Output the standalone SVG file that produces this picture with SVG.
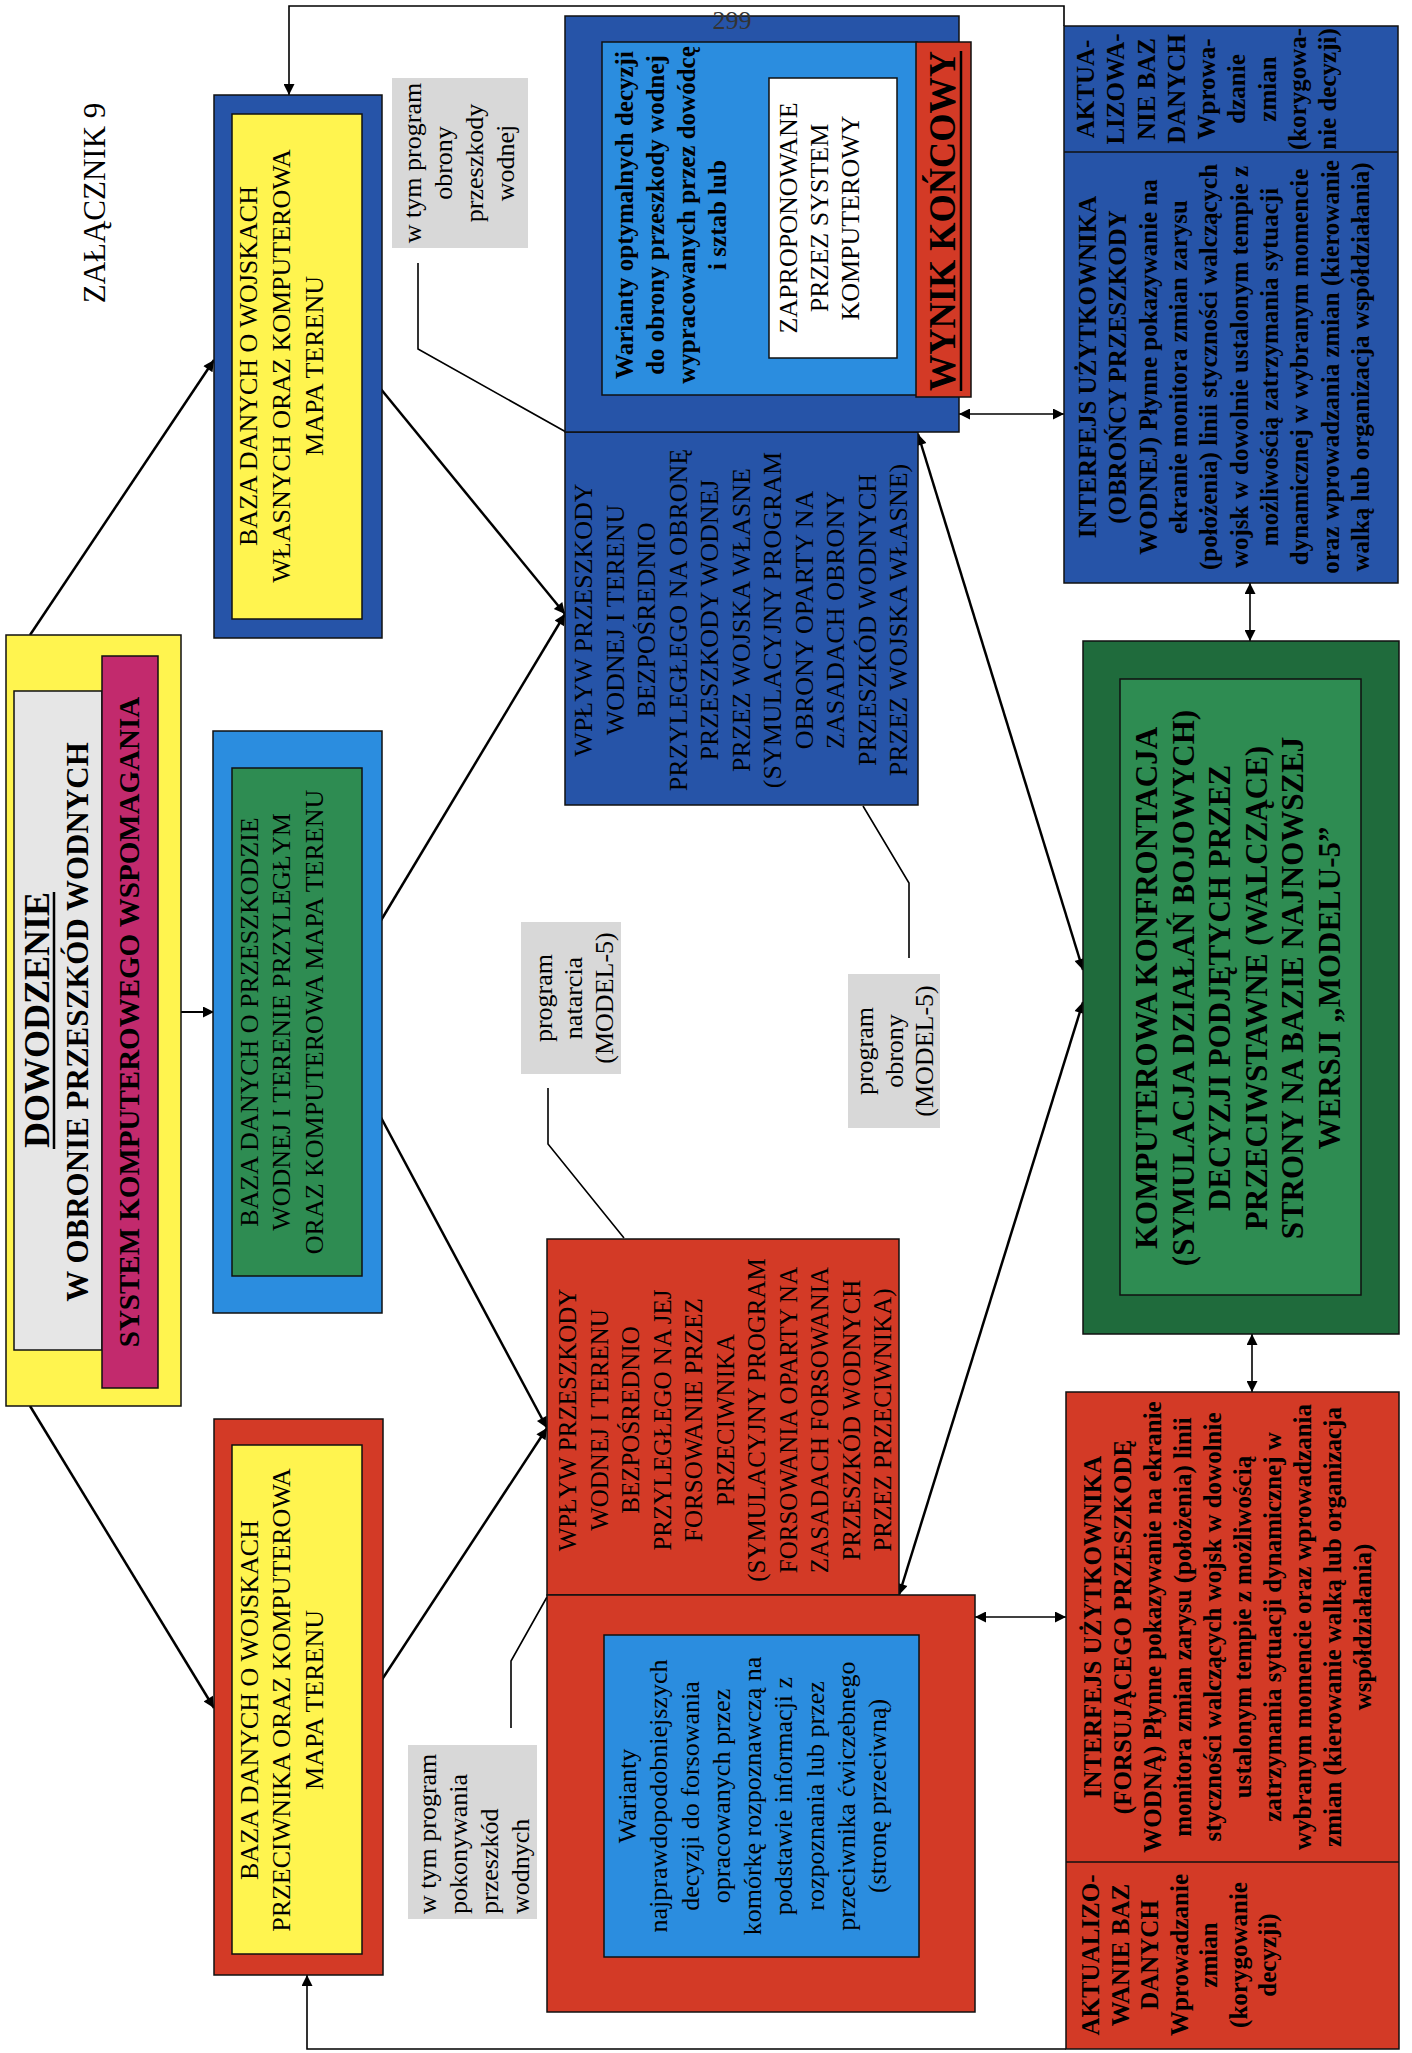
<svg xmlns="http://www.w3.org/2000/svg" width="1412" height="2053" viewBox="0 0 1412 2053">
<defs>
<style>
.box{stroke:#111;stroke-width:1.5}
.t{font-family:"Liberation Serif","Times New Roman",serif;font-size:26px;fill:#000;text-anchor:middle;dominant-baseline:central}
.b{font-weight:bold}
.s25{font-size:25px}
.c{fill:none;stroke:#000;stroke-width:2.5}
.thin{fill:none;stroke:#000;stroke-width:1.6}
.dblue{fill:#2654a8}
.lblue{fill:#2b8ddf}
.yellow{fill:#fff44f}
.red{fill:#d33a26}
.green{fill:#2e8c52}
.dgreen{fill:#1f6b3c}
.grey{fill:#d8d8d8}
</style>
<marker id="ah" viewBox="0 0 10 10" refX="10" refY="5" markerWidth="14" markerHeight="11" markerUnits="userSpaceOnUse" orient="auto-start-reverse">
<path d="M0,0 L10,5 L0,10 z" fill="#000"/>
</marker>
</defs>
<rect x="0" y="0" width="1412" height="2053" fill="#fff"/>

<g id="title">
<g transform="translate(94,203) rotate(-90)"><text class="t" style="font-size:31px">ZAŁĄCZNIK 9</text></g>
</g>

<g id="connectors">
<path class="c" d="M30,635 L214,360" marker-end="url(#ah)"/>
<path class="c" d="M181,1012 L214,1012" marker-end="url(#ah)" style="stroke-width:1.8"/>
<path class="c" d="M30,1406 L214,1708" marker-end="url(#ah)"/>
<path class="c" d="M362,366 L565,614" marker-end="url(#ah)"/>
<path class="c" d="M362,952 L565,614" marker-end="url(#ah)"/>
<path class="c" d="M362,1082 L547,1428" marker-end="url(#ah)"/>
<path class="c" d="M362,1710 L547,1428" marker-end="url(#ah)"/>
<path class="c" d="M918,434 L1083,970" marker-start="url(#ah)" marker-end="url(#ah)"/>
<path class="c" d="M899,1595 L1083,1002" marker-start="url(#ah)" marker-end="url(#ah)"/>
<path class="thin" d="M959,414 L1064,414" marker-start="url(#ah)" marker-end="url(#ah)"/>
<path class="thin" d="M1250,583 L1250,641" marker-start="url(#ah)" marker-end="url(#ah)"/>
<path class="thin" d="M1252,1334 L1252,1392" marker-start="url(#ah)" marker-end="url(#ah)"/>
<path class="thin" d="M975,1617 L1066,1617" marker-start="url(#ah)" marker-end="url(#ah)"/>
<path class="thin" d="M1064,26 L1064,6 L289,6 L289,95" marker-end="url(#ah)"/>
<path class="thin" d="M1066,2049 L307,2049 L307,1975" marker-end="url(#ah)"/>
<path class="thin" d="M418,263 L418,349 L566,432"/>
<path class="thin" d="M548,1088 L548,1144 L624,1238"/>
<path class="thin" d="M909,958 L909,883 L863,806"/>
<path class="thin" d="M511,1728 L511,1661 L547,1597"/>
</g>

<g id="dowodzenie">
<rect x="6" y="635" width="175" height="771" class="box yellow"/>
<rect x="14" y="691" width="88" height="659" class="box" fill="#e6e6e6"/>
<rect x="102" y="656" width="56" height="732" class="box" fill="#c22a6d"/>
<g transform="translate(37,1020) rotate(-90)"><text class="t b" style="font-size:36px">DOWODZENIE</text></g>
<line x1="54" y1="892" x2="54" y2="1149" stroke="#000" stroke-width="2.5"/>
<g transform="translate(77,1022) rotate(-90)"><text class="t b" style="font-size:31px">W OBRONIE PRZESZKÓD WODNYCH</text></g>
<g transform="translate(129,1022) rotate(-90)"><text class="t b" style="font-size:29px">SYSTEM KOMPUTEROWEGO WSPOMAGANIA</text></g>
</g>

<g id="baza-wlasne">
<rect x="214" y="95" width="168" height="543" class="box dblue"/>
<rect x="232" y="114" width="130" height="505" class="box yellow"/>
<g transform="translate(281,366) rotate(-90)"><text class="t"><tspan x="0" y="-33">BAZA DANYCH O WOJSKACH</tspan><tspan x="0" y="0">WŁASNYCH ORAZ KOMPUTEROWA</tspan><tspan x="0" y="33">MAPA TERENU</tspan></text></g>
</g>

<g id="baza-przeszkoda">
<rect x="213" y="731" width="169" height="582" class="box lblue"/>
<rect x="232" y="768" width="130" height="508" class="box green"/>
<g transform="translate(281,1022) rotate(-90)"><text class="t"><tspan x="0" y="-32.5">BAZA DANYCH O PRZESZKODZIE</tspan><tspan x="0" y="0">WODNEJ I TERENIE PRZYLEGŁYM</tspan><tspan x="0" y="32.5">ORAZ KOMPUTEROWA MAPA TERENU</tspan></text></g>
</g>

<g id="baza-przeciwnik">
<rect x="214" y="1419" width="169" height="556" class="box red"/>
<rect x="232" y="1445" width="130" height="509" class="box yellow"/>
<g transform="translate(281,1700) rotate(-90)"><text class="t"><tspan x="0" y="-32.5">BAZA DANYCH O WOJSKACH</tspan><tspan x="0" y="0">PRZECIWNIKA ORAZ KOMPUTEROWA</tspan><tspan x="0" y="32.5">MAPA TERENU</tspan></text></g>
</g>

<g id="label-obrona-przeszkody">
<rect x="392" y="78" width="136" height="170" class="grey"/>
<g transform="translate(458,163) rotate(-90)"><text class="t"><tspan x="0" y="-46.5">w tym program</tspan><tspan x="0" y="-15.5">obrony</tspan><tspan x="0" y="15.5">przeszkody</tspan><tspan x="0" y="46.5">wodnej</tspan></text></g>
</g>

<g id="label-pokonywanie">
<rect x="408" y="1745" width="129" height="174" class="grey"/>
<g transform="translate(473,1832) rotate(-90)"><text class="t" style="text-anchor:start"><tspan x="-82" y="-46.5">w tym program</tspan><tspan x="-82" y="-15.5">pokonywania</tspan><tspan x="-82" y="15.5">przeszkód</tspan><tspan x="-82" y="46.5">wodnych</tspan></text></g>
</g>

<g id="label-natarcie">
<rect x="521" y="922" width="100" height="152" class="grey"/>
<g transform="translate(573,998) rotate(-90)"><text class="t"><tspan x="0" y="-30.5">program</tspan><tspan x="0" y="0">natarcia</tspan><tspan x="0" y="30.5">(MODEL-5)</tspan></text></g>
</g>

<g id="label-obrona">
<rect x="848" y="974" width="92" height="154" class="grey"/>
<g transform="translate(894,1051) rotate(-90)"><text class="t"><tspan x="0" y="-30">program</tspan><tspan x="0" y="0">obrony</tspan><tspan x="0" y="30">(MODEL-5)</tspan></text></g>
</g>

<g id="wplyw-obrona">
<rect x="565" y="432" width="353" height="373" class="box dblue"/>
<g transform="translate(740.5,620) rotate(-90)"><text class="t"><tspan x="0" y="-157.5">WPŁYW PRZESZKODY</tspan><tspan x="0" y="-126">WODNEJ I TERENU</tspan><tspan x="0" y="-94.5">BEZPOŚREDNIO</tspan><tspan x="0" y="-63">PRZYLEGŁEGO NA OBRONĘ</tspan><tspan x="0" y="-31.5">PRZESZKODY WODNEJ</tspan><tspan x="0" y="0">PRZEZ WOJSKA WŁASNE</tspan><tspan x="0" y="31.5">(SYMULACYJNY PROGRAM</tspan><tspan x="0" y="63">OBRONY OPARTY NA</tspan><tspan x="0" y="94.5">ZASADACH OBRONY</tspan><tspan x="0" y="126">PRZESZKÓD WODNYCH</tspan><tspan x="0" y="157.5">PRZEZ WOJSKA WŁASNE)</tspan></text></g>
</g>

<g id="wynik">
<rect x="565" y="16" width="394" height="416" class="box dblue"/>
<rect x="602" y="42" width="315" height="353" class="box lblue"/>
<rect x="769" y="78" width="128" height="280" class="box" fill="#fff"/>
<rect x="916" y="42" width="55" height="355" class="box red"/>
<g transform="translate(670,215) rotate(-90)"><text class="t b s25"><tspan x="0" y="-46.5">Warianty optymalnych decyzji</tspan><tspan x="0" y="-15.5">do obrony przeszkody wodnej</tspan><tspan x="0" y="15.5">wypracowanych przez dowódcę</tspan><tspan x="0" y="46.5">i sztab lub</tspan></text></g>
<g transform="translate(819,218) rotate(-90)"><text class="t"><tspan x="0" y="-31">ZAPROPONOWANE</tspan><tspan x="0" y="0">PRZEZ SYSTEM</tspan><tspan x="0" y="31">KOMPUTEROWY</tspan></text></g>
<g transform="translate(942,221) rotate(-90)"><text class="t b" style="font-size:37px" textLength="340" lengthAdjust="spacingAndGlyphs">WYNIK KOŃCOWY</text></g>
<line x1="961" y1="51" x2="961" y2="391" stroke="#000" stroke-width="2.5"/>
<text x="732" y="29" style="font-family:'Liberation Serif',serif;font-size:26px;fill:#333;text-anchor:middle">299</text>
</g>

<g id="wplyw-forsowanie">
<rect x="547" y="1239" width="352" height="356" class="box red"/>
<g transform="translate(724.5,1420) rotate(-90)"><text class="t s25"><tspan x="0" y="-157.5">WPŁYW PRZESZKODY</tspan><tspan x="0" y="-126">WODNEJ I TERENU</tspan><tspan x="0" y="-94.5">BEZPOŚREDNIO</tspan><tspan x="0" y="-63">PRZYLEGŁEGO NA JEJ</tspan><tspan x="0" y="-31.5">FORSOWANIE PRZEZ</tspan><tspan x="0" y="0">PRZECIWNIKA</tspan><tspan x="0" y="31.5">(SYMULACYJNY PROGRAM</tspan><tspan x="0" y="63">FORSOWANIA OPARTY NA</tspan><tspan x="0" y="94.5">ZASADACH FORSOWANIA</tspan><tspan x="0" y="126">PRZESZKÓD WODNYCH</tspan><tspan x="0" y="157.5">PRZEZ PRZECIWNIKA)</tspan></text></g>
</g>

<g id="warianty-przeciwnika">
<rect x="547" y="1595" width="428" height="417" class="box red"/>
<rect x="604" y="1635" width="315" height="322" class="box lblue"/>
<g transform="translate(752,1796) rotate(-90)"><text class="t"><tspan x="0" y="-125">Warianty</tspan><tspan x="0" y="-93.75">najprawdopodobniejszych</tspan><tspan x="0" y="-62.5">decyzji do forsowania</tspan><tspan x="0" y="-31.25">opracowanych przez</tspan><tspan x="0" y="0">komórkę  rozpoznawczą na</tspan><tspan x="0" y="31.25">podstawie informacji z</tspan><tspan x="0" y="62.5">rozpoznania lub przez</tspan><tspan x="0" y="93.75">przeciwnika ćwiczebnego</tspan><tspan x="0" y="125">(stronę przeciwną)</tspan></text></g>
</g>

<g id="interfejs-obroncy">
<rect x="1064" y="26" width="334" height="557" class="box dblue"/>
<line x1="1064" y1="152" x2="1398" y2="152" stroke="#111" stroke-width="1.5"/>
<g transform="translate(1206,89) rotate(-90)"><text class="t b s25"><tspan x="0" y="-121">AKTUA-</tspan><tspan x="0" y="-90.75">LIZOWA-</tspan><tspan x="0" y="-60.5">NIE BAZ</tspan><tspan x="0" y="-30.25">DANYCH</tspan><tspan x="0" y="0">Wprowa-</tspan><tspan x="0" y="30.25">dzanie</tspan><tspan x="0" y="60.5">zmian</tspan><tspan x="0" y="90.75">(korygowa-</tspan><tspan x="0" y="121">nie decyzji)</tspan></text></g>
<g transform="translate(1223.5,367) rotate(-90)"><text class="t b s25"><tspan x="0" y="-136.4">INTERFEJS UŻYTKOWNIKA</tspan><tspan x="0" y="-106.1">(OBROŃCY PRZESZKODY</tspan><tspan x="0" y="-75.8">WODNEJ) Płynne pokazywanie na</tspan><tspan x="0" y="-45.5">ekranie monitora zmian zarysu</tspan><tspan x="0" y="-15.2">(położenia) linii styczności walczących</tspan><tspan x="0" y="15.2">wojsk w dowolnie ustalonym tempie z</tspan><tspan x="0" y="45.5">możliwością zatrzymania sytuacji</tspan><tspan x="0" y="75.8">dynamicznej w wybranym momencie</tspan><tspan x="0" y="106.1">oraz wprowadzania zmian (kierowanie</tspan><tspan x="0" y="136.4">walką lub organizacja współdziałania)</tspan></text></g>
</g>

<g id="konfrontacja">
<rect x="1083" y="641" width="316" height="693" class="box dgreen"/>
<rect x="1120" y="679" width="241" height="616" class="box green"/>
<g transform="translate(1237.5,988) rotate(-90)"><text class="t b" style="font-size:31px"><tspan x="0" y="-91.5">KOMPUTEROWA KONFRONTACJA</tspan><tspan x="0" y="-54.9">(SYMULACJA DZIAŁAŃ BOJOWYCH)</tspan><tspan x="0" y="-18.3">DECYZJI PODJĘTYCH PRZEZ</tspan><tspan x="0" y="18.3">PRZECIWSTAWNE (WALCZĄCE)</tspan><tspan x="0" y="54.9">STRONY NA BAZIE NAJNOWSZEJ</tspan><tspan x="0" y="91.5">WERSJI „MODELU-5”</tspan></text></g>
</g>

<g id="interfejs-forsujacego">
<rect x="1066" y="1392" width="333" height="657" class="box red"/>
<line x1="1066" y1="1862" x2="1399" y2="1862" stroke="#111" stroke-width="1.5"/>
<g transform="translate(1227,1627) rotate(-90)"><text class="t b s25"><tspan x="0" y="-135">INTERFEJS UŻYTKOWNIKA</tspan><tspan x="0" y="-105">(FORSUJĄCEGO PRZESZKODĘ</tspan><tspan x="0" y="-75">WODNĄ) Płynne pokazywanie na ekranie</tspan><tspan x="0" y="-45">monitora zmian zarysu (położenia) linii</tspan><tspan x="0" y="-15">styczności walczących wojsk w dowolnie</tspan><tspan x="0" y="15">ustalonym tempie z możliwością</tspan><tspan x="0" y="45">zatrzymania sytuacji dynamicznej w</tspan><tspan x="0" y="75">wybranym momencie oraz wprowadzania</tspan><tspan x="0" y="105">zmian (kierowanie walką lub organizacja</tspan><tspan x="0" y="135">współdziałania)</tspan></text></g>
<g transform="translate(1178.5,1955) rotate(-90)"><text class="t b s25"><tspan x="0" y="-88.5">AKTUALIZO-</tspan><tspan x="0" y="-59">WANIE BAZ</tspan><tspan x="0" y="-29.5">DANYCH</tspan><tspan x="0" y="0">Wprowadzanie</tspan><tspan x="0" y="29.5">zmian</tspan><tspan x="0" y="59">(korygowanie</tspan><tspan x="0" y="88.5">decyzji)</tspan></text></g>
</g>
</svg>
